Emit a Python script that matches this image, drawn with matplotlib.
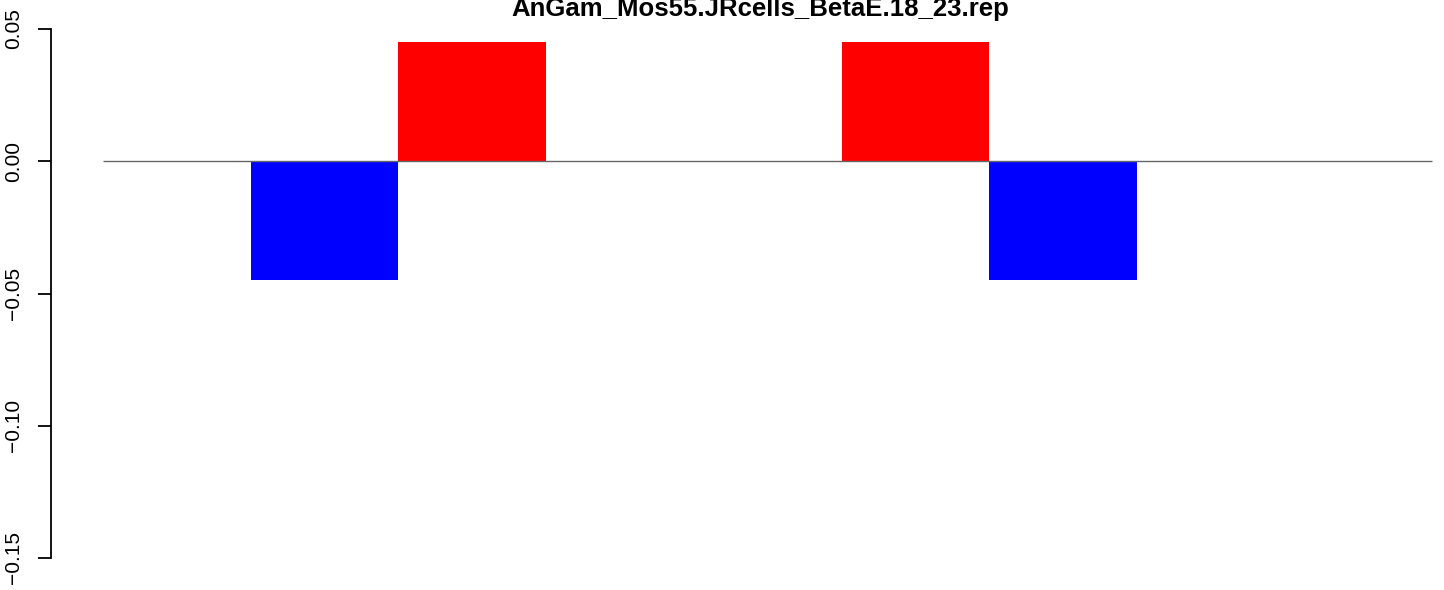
import matplotlib
matplotlib.use("Agg")
import matplotlib.pyplot as plt

title = "AnGam_Mos55.JRcells_BetaE.18_23.rep"
values = [0, -0.045, 0.045, 0, 0, 0.045, -0.045, 0, 0]
colors = ["white", "blue", "red", "white", "white", "red", "blue", "white", "white"]
yticks = [-0.15, -0.10, -0.05, 0.00, 0.05]
ytick_labels = ["\u22120.15", "\u22120.10", "\u22120.05", "0.00", "0.05"]

plt.rcParams["font.family"] = ["Liberation Sans", "DejaVu Sans"]

W, H = 1444, 590
fig = plt.figure(figsize=(W / 100, H / 100), dpi=100)
ax = fig.add_axes([51 / W, 1 - 558 / H, 1 - 51 / W, (558 - 29) / H])

x = list(range(len(values)))
ax.bar(x, values, width=1.0, color=colors, linewidth=0, zorder=2)
ax.hlines(0, -0.5, len(values) - 0.5, color="#666666", linewidth=1.0, zorder=3)

ax.set_xlim(-0.852, 8.579)
ax.set_ylim(-0.15, 0.05)

for s in ["top", "right", "bottom"]:
    ax.spines[s].set_visible(False)
ax.spines["left"].set_linewidth(1.3)
ax.spines["left"].set_bounds(-0.15, 0.05)
ax.set_xticks([])
ax.set_yticks(yticks)
ax.set_yticklabels(ytick_labels, rotation=90, va="center", fontsize=15)
ax.tick_params(axis="y", direction="out", length=9.4, width=1.3, pad=11)

fig.text(760 / W, 1 - 16 / H, title, ha="center", va="baseline",
         fontsize=18.5, fontweight="bold")

fig.savefig("out.png", dpi=100)
